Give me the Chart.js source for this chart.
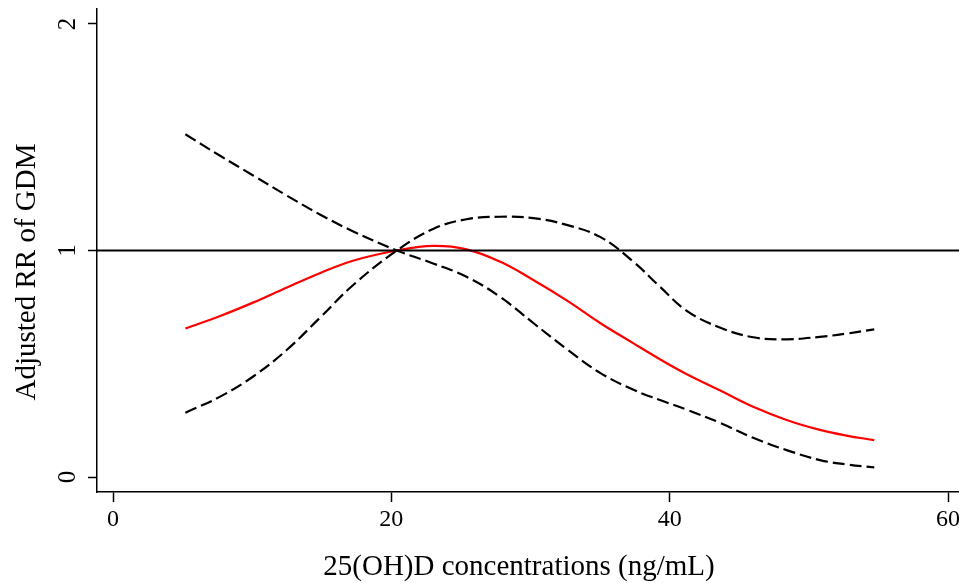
<!DOCTYPE html>
<html>
<head>
<meta charset="utf-8">
<title>Adjusted RR of GDM by 25(OH)D</title>
<script src="https://cdn.jsdelivr.net/npm/chart.js@4.4.1/dist/chart.umd.min.js"></script>
<style>
  html, body { margin: 0; padding: 0; background: #fff; }
  #wrap { width: 959px; height: 583px; }
</style>
</head>
<body>
<div id="wrap"><canvas id="rrChart" width="959" height="583"></canvas></div>
<script>
// spline fit: 25(OH)D (ng/mL) vs adjusted RR, with 95% CI bounds
const concentrations = [5.2, 7.7, 10.1, 12.5, 14.9, 17.3, 20.4, 23.0, 25.4, 27.8, 30.2, 32.6, 35.0, 37.4, 39.3, 41.2, 43.6, 46.0, 48.4, 50.8, 52.7, 54.7];
const adjustedRR = [0.656, 0.711, 0.771, 0.837, 0.901, 0.956, 1.0, 1.020, 1.005, 0.951, 0.870, 0.780, 0.680, 0.590, 0.520, 0.455, 0.383, 0.310, 0.252, 0.208, 0.183, 0.163];
// the two CI curves cross at the reference point (RR = 1)
const ciFalling = [1.513, 1.418, 1.330, 1.242, 1.158, 1.083, 1.0, 0.943, 0.884, 0.796, 0.680, 0.565, 0.460, 0.385, 0.340, 0.298, 0.240, 0.173, 0.119, 0.075, 0.056, 0.043];
const ciRising = [0.284, 0.355, 0.445, 0.562, 0.705, 0.850, 1.0, 1.095, 1.138, 1.149, 1.143, 1.113, 1.060, 0.950, 0.840, 0.735, 0.660, 0.617, 0.608, 0.619, 0.633, 0.652];

const xTicks = [0, 20, 40, 60];
const yTicks = [0, 1, 2];
const refRR = 1;

const xMin = -1.15, xMax = 60.79;
const yMin = -0.066, yMax = 2.066;

const serif = '"Liberation Serif", "Times New Roman", serif';

const toPoints = (ys) => concentrations.map((x, i) => ({ x: x, y: ys[i] }));

// axis titles placed by hand (Chart.js only centres them)
const axisTitles = {
    id: 'axisTitles',
    afterDraw(chart) {
        const { ctx, chartArea } = chart;
        ctx.save();
        ctx.fillStyle = '#000';
        ctx.font = '29px ' + serif;
        ctx.textAlign = 'center';
        ctx.textBaseline = 'middle';
        ctx.fillText('25(OH)D concentrations (ng/mL)', 519, chartArea.bottom + 75);
        ctx.translate(27, 272);
        ctx.rotate(-Math.PI / 2);
        ctx.fillText('Adjusted RR of GDM', 0, 0);
        ctx.restore();
    }
};

const line = (data, color, dash) => ({
    data: data,
    borderColor: color,
    borderWidth: 2.2,
    borderDash: dash,
    pointRadius: 0,
    showLine: true,
    fill: false,
    tension: 0.4
});

new Chart(document.getElementById('rrChart'), {
    type: 'scatter',
    data: {
        datasets: [
            line([{ x: xMin, y: refRR }, { x: xMax, y: refRR }], '#000', []),
            line(toPoints(ciFalling), '#000', [12, 5]),
            line(toPoints(ciRising), '#000', [12, 5]),
            line(toPoints(adjustedRR), '#ff0000', [])
        ]
    },
    options: {
        responsive: false,
        animation: false,
        layout: { padding: { top: 9, right: 0, bottom: 0, left: 0 } },
        plugins: {
            legend: { display: false },
            tooltip: { enabled: false }
        },
        scales: {
            x: {
                type: 'linear',
                min: xMin,
                max: xMax,
                afterBuildTicks: (s) => { s.ticks = xTicks.map(v => ({ value: v })); },
                afterFit: (s) => { s.height = 91; s.paddingLeft = 0; s.paddingRight = 0; },
                grid: { drawOnChartArea: false, drawTicks: true, tickLength: 10, tickWidth: 1.5, tickColor: '#000' },
                border: { display: true, color: '#000', width: 1.5 },
                ticks: {
                    color: '#000',
                    font: { family: serif, size: 24 },
                    padding: 3,
                    maxRotation: 0,
                    autoSkip: false
                }
            },
            y: {
                type: 'linear',
                min: yMin,
                max: yMax,
                afterBuildTicks: (s) => { s.ticks = yTicks.map(v => ({ value: v })); },
                afterFit: (s) => { s.width = 97; s.paddingTop = 0; s.paddingBottom = 0; },
                grid: { drawOnChartArea: false, drawTicks: true, tickLength: 9, tickWidth: 1.5, tickColor: '#000' },
                border: { display: true, color: '#000', width: 1.5 },
                ticks: {
                    color: '#000',
                    font: { family: serif, size: 25 },
                    padding: 13,
                    minRotation: 90,
                    maxRotation: 90,
                    crossAlign: 'center',
                    autoSkip: false
                }
            }
        }
    },
    plugins: [axisTitles]
});
</script>
</body>
</html>
